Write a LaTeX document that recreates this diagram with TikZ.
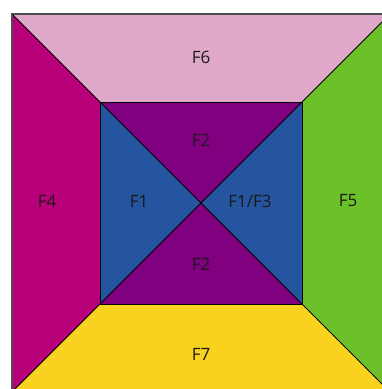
\documentclass[tikz,border=0pt]{standalone}
\usepackage{fontspec}
\setmainfont{Open Sans}
\definecolor{cpink}{HTML}{DFA8C8}
\definecolor{cmag}{HTML}{B8007A}
\definecolor{cpur}{HTML}{800080}
\definecolor{cblue}{HTML}{25559E}
\definecolor{cgreen}{HTML}{6CC12A}
\definecolor{cyel}{HTML}{F8D21E}
\definecolor{ctext}{HTML}{1A1A1A}
\begin{document}
\begin{tikzpicture}[x=1pt,y=-1pt,
  face/.style={draw=black,line width=0.9pt,line join=miter},
  lbl/.style={text=ctext,font=\fontsize{17}{17}\selectfont,inner sep=0pt}]
\useasboundingbox (0,0) rectangle (382,389);
\clip (0,0) rectangle (382,389);
\coordinate (O1) at (12,14);
\coordinate (O2) at (390,14);
\coordinate (O3) at (390,392);
\coordinate (O4) at (12,392);
\coordinate (I1) at (100,102);
\coordinate (I2) at (302,102);
\coordinate (I3) at (302,304);
\coordinate (I4) at (100,304);
\coordinate (C) at (201,203);
% outer trapezoids
\fill[cpink] (O1) -- (O2) -- (I2) -- (I1) -- cycle;
\fill[cmag] (O1) -- (I1) -- (I4) -- (O4) -- cycle;
\fill[cgreen] (O2) -- (O3) -- (I3) -- (I2) -- cycle;
\fill[cyel] (O4) -- (I4) -- (I3) -- (O3) -- cycle;
% inner triangles
\fill[cpur] (I1) -- (I2) -- (C) -- cycle;
\fill[cpur] (I4) -- (I3) -- (C) -- cycle;
\fill[cblue] (I1) -- (I4) -- (C) -- cycle;
\fill[cblue] (I2) -- (I3) -- (C) -- cycle;
% lines
\draw[face] (O1) -- (I1) (O2) -- (I2) (O3) -- (I3) (O4) -- (I4);
\draw[face] (I1) -- (I3) (I2) -- (I4);
\draw[face] (I1) rectangle (I3);
\draw[line width=1.2pt,draw=black!70] (O4) -- (O1) -- (O2);
% labels
\node[lbl] (f6) at (201,57) {F6};
\node[lbl] (f4) at (47,201) {F4};
\node[lbl] (f1) at (139,201) {F1};
\node[lbl] (f2a) at (201,140) {F2};
\node[lbl] (f13) at (250,201) {F1/F3};
\node[lbl] (f5) at (348,201) {F5};
\node[lbl] (f2b) at (201,264) {F2};
\node[lbl] (f7) at (201,354) {F7};
\end{tikzpicture}
\end{document}
